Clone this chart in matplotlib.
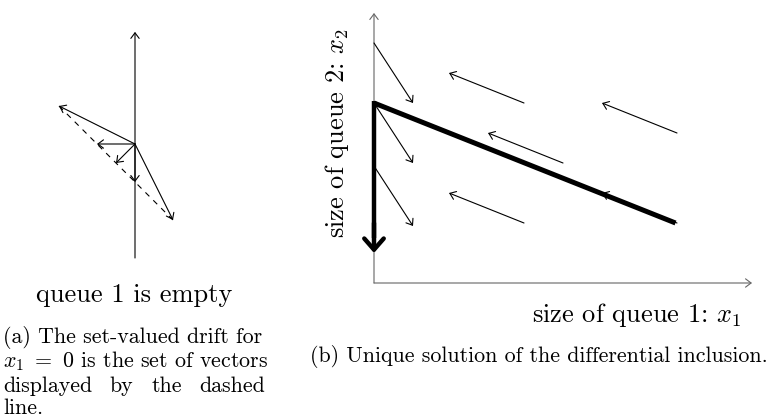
import matplotlib
matplotlib.use("Agg")
import matplotlib.pyplot as plt

plt.rcParams["font.family"] = "cmr10"
plt.rcParams["mathtext.fontset"] = "cm"

# (a) drift vectors at x1 = 0 (set-valued drift)
drift_dx = [-2.0, -1.0, -0.5, 0.0, 1.0]
drift_dy = [1.0, 0.0, -0.5, -1.0, -2.0]
axis_a_y = [-3.0, 2.95]

# (b) vector field: arrow starts and displacement
field_x0 = [0.0, 0.0, 0.0, 5.0, 5.0, 6.3, 10.1, 10.1]
field_y0 = [8.0, 6.0, 3.9, 6.0, 2.0, 4.0, 5.0, 2.0]
field_dx = [1.3, 1.3, 1.3, -2.5, -2.5, -2.5, -2.5, -2.5]
field_dy = [-2.0, -2.0, -2.0, 1.0, 1.0, 1.0, 1.0, 1.0]

# (b) unique solution path
sol_x = [10.05, 0.0, 0.0]
sol_y = [2.0, 6.0, 1.0]
x_axis_end = 12.6
y_axis_end = 9.0

W, H = 776, 419
fig = plt.figure(figsize=(W / 100, H / 100), dpi=100)


def px(x, y):
    return x / W, 1 - y / H


thin = dict(arrowstyle="->,head_length=0.4,head_width=0.3", lw=0.8,
            color="black", shrinkA=0, shrinkB=0)

# ---------- panel (a) ----------
axa = fig.add_axes([0, (H - 280) / H, 270 / W, 280 / H])
u = 38.0
axa.set_xlim(-135 / u, 135 / u)
axa.set_ylim(-(280 - 144) / u, 144 / u)
axa.axis("off")
axa.annotate("", xy=(0, axis_a_y[1]), xytext=(0, axis_a_y[0]), arrowprops=thin)
axa.plot([drift_dx[0], drift_dx[-1]], [drift_dy[0], drift_dy[-1]],
         color="black", lw=0.8, linestyle=(0, (5, 5)))
for dx, dy in zip(drift_dx, drift_dy):
    axa.annotate("", xy=(dx, dy), xytext=(0, 0), arrowprops=thin)

# ---------- panel (b) ----------
axb = fig.add_axes([300 / W, (H - 300) / H, 476 / W, 300 / H])
ub = 30.0
axb.set_xlim(-74 / ub, (W - 374) / ub)
axb.set_ylim(-(300 - 283) / ub, 283 / ub)
axb.axis("off")
gray = dict(thin, color="0.4", lw=0.8)
axb.annotate("", xy=(x_axis_end, 0), xytext=(0, 0), arrowprops=gray)
axb.annotate("", xy=(0, y_axis_end), xytext=(0, 0), arrowprops=gray)
for x0, y0, dx, dy in zip(field_x0, field_y0, field_dx, field_dy):
    axb.annotate("", xy=(x0 + dx, y0 + dy), xytext=(x0, y0), arrowprops=thin)
axb.plot(sol_x[:2], sol_y[:2], color="black", lw=3.6, solid_capstyle="butt", zorder=5)
axb.plot([sol_x[1], sol_x[2]], [sol_y[1] + 0.06, sol_y[2] + 0.5],
         color="black", lw=3.2, solid_capstyle="butt", zorder=5)
axb.annotate("", xy=(sol_x[2], sol_y[2]), xytext=(sol_x[2], sol_y[2] + 1.0),
             arrowprops=dict(arrowstyle="->,head_length=0.8,head_width=0.7",
                             lw=3.2, color="black", shrinkA=0, shrinkB=0),
             zorder=6)

# ---------- texts ----------
lab = 19
cap = 15.8
fig.text(*px(134, 302), "queue 1 is empty", ha="center", va="baseline", fontsize=lab)
fig.text(*px(3, 343), "(a) The set-valued drift for", ha="left", va="baseline", fontsize=cap)
fig.text(*px(3, 367), r"$x_1\ =\ 0$ is the set of vectors", ha="left", va="baseline", fontsize=cap)

# justified line: spread words between x=3 and x=265
words = ["displayed", "by", "the", "dashed"]
renderer = fig.canvas.get_renderer()
items = [fig.text(0, 0, w, ha="left", va="baseline", fontsize=cap) for w in words]
widths = [t.get_window_extent(renderer).width for t in items]
gap = (262 - sum(widths)) / (len(words) - 1)
xw = 3.0
for t, w in zip(items, widths):
    t.set_position(px(xw, 392))
    xw += w + gap
fig.text(*px(3, 414), "line.", ha="left", va="baseline", fontsize=cap)

fig.text(*px(637, 322), r"size of queue 1: $x_1$", ha="center", va="baseline", fontsize=lab)
fig.text(*px(337, 133), r"size of queue 2: $x_2$", ha="center", va="center",
         rotation=90, fontsize=lab)
fig.text(*px(539, 362), "(b) Unique solution of the differential inclusion.",
         ha="center", va="baseline", fontsize=cap)

fig.savefig("out.png", dpi=100)
